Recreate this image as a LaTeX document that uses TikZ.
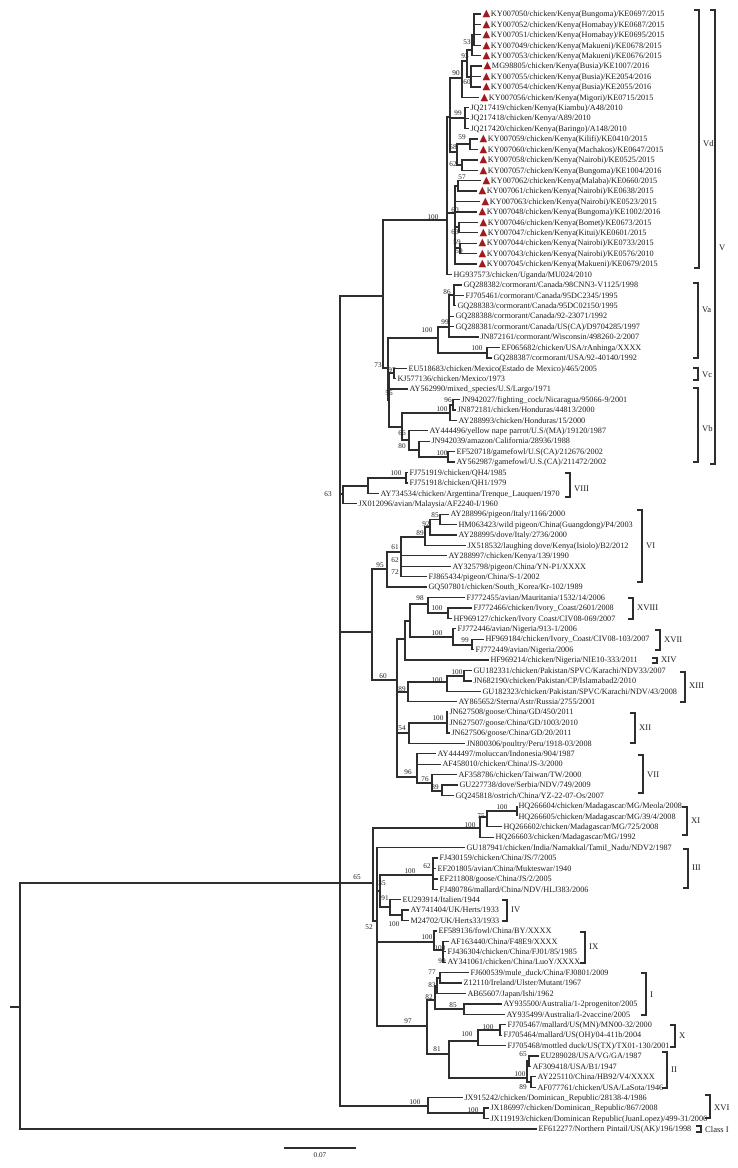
\documentclass[tikz,border=0pt]{standalone}
\usepackage{fontspec}
\setmainfont{Liberation Serif}
\newfontfamily\dejavu{DejaVu Sans}
\definecolor{trired}{HTML}{A11A1F}
\definecolor{ln}{HTML}{2E2E2E}
\definecolor{tx}{HTML}{1E1E1E}
\newcommand\tri{{\color{trired}\dejavu\fontsize{10}{10}\selectfont ▲}\hspace{0.8pt}}
\newcommand\lf[4]{\node[leaf] (L#1) at (#2,#3) {#4};}
\newcommand\E[2]{\foreach \c in {#2} {\draw[br] (#1) |- (\c);}}
\newcommand\bs[3]{\node[bsl] (b#1) at (#2) {#3};}
\newcommand\brk[6]{\draw[brk] (#2-5,#3) -- (#2,#3) -- (#2,#4) -- (#2-5,#4);
  \node[clade] (c#1) at (#2+4,#5) {#6};}
\begin{document}
\begin{tikzpicture}[x=1pt,y=-1pt,
  br/.style={line width=1.25pt,draw=ln},
  brk/.style={line width=1.35pt,draw=ln},
  leaf/.style={anchor=west,inner xsep=1.3pt,inner ysep=0pt,text height=6pt,text depth=0.6pt,font=\fontsize{8.2}{9}\selectfont,text=tx},
  bsl/.style={inner sep=0pt,font=\fontsize{7.2}{8}\selectfont,text=tx},
  clade/.style={anchor=west,inner sep=0pt,font=\fontsize{8.6}{9}\selectfont,text=tx}]
\useasboundingbox (0,0) rectangle (737,1168);
% ---------------- leaves ----------------
\lf{1}{481}{14.0}{\tri KY007050/chicken/Kenya(Bungoma)/KE0697/2015}
\lf{2}{481}{24.4}{\tri KY007052/chicken/Kenya(Homabay)/KE0687/2015}
\lf{3}{481}{34.8}{\tri KY007051/chicken/Kenya(Homabay)/KE0695/2015}
\lf{4}{481}{45.3}{\tri KY007049/chicken/Kenya(Makueni)/KE0678/2015}
\lf{5}{481}{55.7}{\tri KY007053/chicken/Kenya(Makueni)/KE0676/2015}
\lf{6}{482}{66.1}{\tri MG98805/chicken/Kenya(Busia)/KE1007/2016}
\lf{7}{481}{76.5}{\tri KY007055/chicken/Kenya(Busia)/KE2054/2016}
\lf{8}{481}{86.9}{\tri KY007054/chicken/Kenya(Busia)/KE2055/2016}
\lf{9}{479}{97.4}{\tri KY007056/chicken/Kenya(Migori)/KE0715/2015}
\lf{10}{469}{107.8}{JQ217419/chicken/Kenya(Kiambu)/A48/2010}
\lf{11}{469}{118.2}{JQ217418/chicken/Kenya/A89/2010}
\lf{12}{469}{128.6}{JQ217420/chicken/Kenya(Baringo)/A148/2010}
\lf{13}{478}{139.0}{\tri KY007059/chicken/Kenya(Kilifi)/KE0410/2015}
\lf{14}{478}{149.5}{\tri KY007060/chicken/Kenya(Machakos)/KE0647/2015}
\lf{15}{478}{159.9}{\tri KY007058/chicken/Kenya(Nairobi)/KE0525/2015}
\lf{16}{478}{170.3}{\tri KY007057/chicken/Kenya(Bungoma)/KE1004/2016}
\lf{17}{481}{180.7}{\tri KY007062/chicken/Kenya(Malaba)/KE0660/2015}
\lf{18}{477}{191.1}{\tri KY007061/chicken/Kenya(Nairobi)/KE0638/2015}
\lf{19}{480}{201.6}{\tri KY007063/chicken/Kenya(Nairobi)/KE0523/2015}
\lf{20}{477}{212.0}{\tri KY007048/chicken/Kenya(Bungoma)/KE1002/2016}
\lf{21}{478}{222.4}{\tri KY007046/chicken/Kenya(Bomet)/KE0673/2015}
\lf{22}{478}{232.8}{\tri KY007047/chicken/Kenya(Kitui)/KE0601/2015}
\lf{23}{477}{243.2}{\tri KY007044/chicken/Kenya(Nairobi)/KE0733/2015}
\lf{24}{477}{253.7}{\tri KY007043/chicken/Kenya(Nairobi)/KE0576/2010}
\lf{25}{477}{264.1}{\tri KY007045/chicken/Kenya(Makueni)/KE0679/2015}
\lf{26}{452}{274.5}{HG937573/chicken/Uganda/MU024/2010}
\lf{27}{462}{284.9}{GQ288382/cormorant/Canada/98CNN3-V1125/1998}
\lf{28}{464}{295.3}{FJ705461/cormorant/Canada/95DC2345/1995}
\lf{29}{456}{305.7}{GQ288383/cormorant/Canada/95DC02150/1995}
\lf{30}{454}{316.2}{GQ288388/cormorant/Canada/92-23071/1992}
\lf{31}{454}{326.6}{GQ288381/cormorant/Canada/US(CA)/D9704285/1997}
\lf{32}{479}{337.0}{JN872161/cormorant/Wisconsin/498260-2/2007}
\lf{33}{500}{347.4}{EF065682/chicken/USA/rAnhinga/XXXX}
\lf{34}{492}{357.9}{GQ288387/cormorant/USA/92-40140/1992}
\lf{35}{407}{368.3}{EU518683/chicken/Mexico(Estado de Mexico)/465/2005}
\lf{36}{396}{378.7}{KJ577136/chicken/Mexico/1973}
\lf{37}{408}{389.1}{AY562990/mixed\_species/U.S/Largo/1971}
\lf{38}{460}{399.5}{JN942027/fighting\_cock/Nicaragua/95066-9/2001}
\lf{39}{456}{409.9}{JN872181/chicken/Honduras/44813/2000}
\lf{40}{457}{420.4}{AY288993/chicken/Honduras/15/2000}
\lf{41}{428}{430.8}{AY444496/yellow nape parrot/U.S/(MA)/19120/1987}
\lf{42}{430}{441.2}{JN942039/amazon/California/28936/1988}
\lf{43}{455}{451.6}{EF520718/gamefowl/U.S(CA)/212676/2002}
\lf{44}{455}{462.1}{AY562987/gamefowl/U.S.(CA)/211472/2002}
\lf{45}{408}{472.5}{FJ751919/chicken/QH4/1985}
\lf{46}{408}{482.9}{FJ751918/chicken/QH1/1979}
\lf{47}{379}{493.3}{AY734534/chicken/Argentina/Trenque\_Lauquen/1970}
\lf{48}{357}{503.7}{JX012096/avian/Malaysia/AF2240-I/1960}
\lf{49}{449}{514.2}{AY288996/pigeon/Italy/1166/2000}
\lf{50}{457}{524.6}{HM063423/wild pigeon/China(Guangdong)/P4/2003}
\lf{51}{457}{535.0}{AY288995/dove/Italy/2736/2000}
\lf{52}{466}{545.4}{JX518532/laughing dove/Kenya(Isiolo)/B2/2012}
\lf{53}{447}{555.8}{AY288997/chicken/Kenya/139/1990}
\lf{54}{451}{566.3}{AY325798/pigeon/China/YN-P1/XXXX}
\lf{55}{427}{576.7}{FJ865434/pigeon/China/S-1/2002}
\lf{56}{427}{587.1}{GQ507801/chicken/South\_Korea/Kr-102/1989}
\lf{57}{465}{597.5}{FJ772455/avian/Mauritania/1532/14/2006}
\lf{58}{472}{607.9}{FJ772466/chicken/Ivory\_Coast/2601/2008}
\lf{59}{452}{618.4}{HF969127/chicken/Ivory Coast/CIV08-069/2007}
\lf{60}{456}{628.8}{FJ772446/avian/Nigeria/913-1/2006}
\lf{61}{484}{639.2}{HF969184/chicken/Ivory\_Coast/CIV08-103/2007}
\lf{62}{474}{649.6}{FJ772449/avian/Nigeria/2006}
\lf{63}{489}{660.0}{HF969214/chicken/Nigeria/NIE10-333/2011}
\lf{64}{472}{670.5}{GU182331/chicken/Pakistan/SPVC/Karachi/NDV33/2007}
\lf{65}{472}{680.9}{JN682190/chicken/Pakistan/CP/Islamabad2/2010}
\lf{66}{481}{691.3}{GU182323/chicken/Pakistan/SPVC/Karachi/NDV/43/2008}
\lf{67}{457}{701.7}{AY865652/Sterna/Astr/Russia/2755/2001}
\lf{68}{448}{712.1}{JN627508/goose/China/GD/450/2011}
\lf{69}{448}{722.6}{JN627507/goose/China/GD/1003/2010}
\lf{70}{450}{733.0}{JN627506/goose/China/GD/20/2011}
\lf{71}{465}{743.4}{JN800306/poultry/Peru/1918-03/2008}
\lf{72}{436}{753.8}{AY444497/moluccan/Indonesia/904/1987}
\lf{73}{441}{764.2}{AF458010/chicken/China/JS-3/2000}
\lf{74}{457}{774.7}{AF358786/chicken/Taiwan/TW/2000}
\lf{75}{458}{785.1}{GU227738/dove/Serbia/NDV/749/2009}
\lf{76}{454}{795.5}{GQ245818/ostrich/China/YZ-22-07-Os/2007}
\lf{77}{517}{805.9}{HQ266604/chicken/Madagascar/MG/Meola/2008}
\lf{78}{517}{816.3}{HQ266605/chicken/Madagascar/MG/39/4/2008}
\lf{79}{502}{826.8}{HQ266602/chicken/Madagascar/MG/725/2008}
\lf{80}{494}{837.2}{HQ266603/chicken/Madagascar/MG/1992}
\lf{81}{465}{847.6}{GU187941/chicken/India/Namakkal/Tamil\_Nadu/NDV2/1987}
\lf{82}{438}{858.0}{FJ430159/chicken/China/JS/7/2005}
\lf{83}{436}{868.4}{EF201805/avian/China/Mukteswar/1940}
\lf{84}{438}{878.9}{EF211808/goose/China/JS/2/2005}
\lf{85}{438}{889.3}{FJ480786/mallard/China/NDV/HLJ383/2006}
\lf{86}{401}{899.7}{EU293914/Italien/1944}
\lf{87}{409}{910.1}{AY741404/UK/Herts/1933}
\lf{88}{409}{920.5}{M24702/UK/Herts33/1933}
\lf{89}{437}{931.0}{EF589136/fowl/China/BY/XXXX}
\lf{90}{449}{941.4}{AF163440/China/F48E9/XXXX}
\lf{91}{446}{951.8}{FJ436304/chicken/China/FJ01/85/1985}
\lf{92}{446}{962.2}{AY341061/chicken/China/LuoY/XXXX}
\lf{93}{469}{972.6}{FJ600539/mule\_duck/China/FJ0801/2009}
\lf{94}{462}{983.1}{Z12110/Ireland/Ulster/Mutant/1967}
\lf{95}{466}{993.5}{AB65607/Japan/Ishi/1962}
\lf{96}{502}{1003.9}{AY935500/Australia/1-2progenitor/2005}
\lf{97}{505}{1014.3}{AY935499/Australia/I-2vaccine/2005}
\lf{98}{506}{1024.7}{FJ705467/mallard/US(MN)/MN00-32/2000}
\lf{99}{502}{1035.2}{FJ705464/mallard/US(OH)/04-411b/2004}
\lf{100}{506}{1045.6}{FJ705468/mottled duck/US(TX)/TX01-130/2001}
\lf{101}{539}{1056.0}{EU289028/USA/VG/GA/1987}
\lf{102}{531}{1066.4}{AF309418/USA/B1/1947}
\lf{103}{536}{1076.8}{AY225110/China/HB92/V4/XXXX}
\lf{104}{536}{1087.3}{AF077761/chicken/USA/LaSota/1946}
\lf{105}{463}{1097.7}{JX915242/chicken/Dominican\_Republic/28138-4/1986}
\lf{106}{489}{1108.1}{JX186997/chicken/Dominican\_Republic/867/2008}
\lf{107}{489}{1118.5}{JX119193/chicken/Dominican Republic(JuanLopez)/499-31/2006}
\lf{108}{537}{1128.9}{EF612277/Northern Pintail/US(AK)/196/1998}
% ---------------- internal nodes ----------------
\coordinate (stub) at (10,1007);
\coordinate (root) at (20,1007);
\coordinate (nA) at (340,883);
\coordinate (nV) at (383,296);
\coordinate (nVdAll) at (447,220);
\coordinate (nUp) at (450,117);
\coordinate (n90) at (462,78);
\coordinate (nX9) at (467,61);
\coordinate (n93) at (472,50);
\coordinate (n53) at (474,35);
\coordinate (n60a) at (471,77);
\coordinate (n99) at (465,118);
\coordinate (n58) at (457,152);
\coordinate (n59) at (470,144);
\coordinate (n62) at (462,165);
\coordinate (n60b) at (455,213);
\coordinate (n57) at (458,186);
\coordinate (n63v) at (459,227);
\coordinate (n59v) at (460,248);
\coordinate (n73) at (388,368);
\coordinate (nVa) at (438,338);
\coordinate (n99Va) at (449,327);
\coordinate (n86) at (454,295);
\coordinate (nVa100) at (487,353);
\coordinate (n56) at (389,400);
\coordinate (nVc) at (394,373);
\coordinate (nVbR) at (402,427);
\coordinate (nVb100) at (450,413);
\coordinate (n96Vb) at (453,405);
\coordinate (n66) at (409,440);
\coordinate (n80) at (419,450);
\coordinate (nVb100b) at (448,457);
\coordinate (n63) at (343,494);
\coordinate (nVIII) at (368,486);
\coordinate (nVIII100) at (406,478);
\coordinate (n372) at (372,632);
\coordinate (n95) at (387,569);
\coordinate (n61) at (401,552);
\coordinate (n89VI) at (425,537);
\coordinate (n92) at (430,527);
\coordinate (n85VI) at (440,519.5);
\coordinate (n60) at (397,680);
\coordinate (nAfr) at (405,639);
\coordinate (nX78) at (410,621);
\coordinate (n98) at (428,604);
\coordinate (n100XVIII) at (448,613);
\coordinate (nXVII) at (453,637);
\coordinate (n99XVII) at (472,645);
\coordinate (n89XIII) at (408,692);
\coordinate (n100XIII) at (447,682);
\coordinate (n100c) at (464,676);
\coordinate (n54) at (409,733);
\coordinate (n100XII) at (447,723);
\coordinate (n96) at (417,777);
\coordinate (n76) at (432,783);
\coordinate (n89VII) at (442,791);
\coordinate (n65) at (373,883);
\coordinate (nXI) at (480,828);
\coordinate (n75) at (487,817);
\coordinate (nXI100) at (517,811);
\coordinate (n52) at (377,921);
\coordinate (n35) at (380,891);
\coordinate (nIII) at (433,875);
\coordinate (n91) at (390,907);
\coordinate (nIV100) at (402,915);
\coordinate (nIX) at (434,942);
\coordinate (nIX100) at (443,950);
\coordinate (n97) at (427,1026);
\coordinate (n82) at (435,1000);
\coordinate (n83) at (437,986);
\coordinate (n77) at (440,978);
\coordinate (n85I) at (464,1009);
\coordinate (n81) at (449,1054);
\coordinate (nX) at (478,1041);
\coordinate (nX100) at (500,1030);
\coordinate (nII) at (527,1078);
\coordinate (n65II) at (529,1061);
\coordinate (n89II) at (531,1082);
\coordinate (nXVI) at (428,1106);
\coordinate (nXVI100) at (484,1113);
% ---------------- branches ----------------
\draw[br] (stub) -- (root);
\E{root}{nA,L108.west}
\E{nA}{nV,n63,n372,n65,nXVI}
\E{nV}{nVdAll,n73}
\E{nVdAll}{nUp,n60b,L26.west}
\E{nUp}{n90,n99,n58}
\E{n90}{nX9,L9.west}
\E{nX9}{n93,n60a}
\E{n93}{n53,L5.west}
\E{n53}{L1.west,L2.west,L3.west,L4.west}
\E{n60a}{L6.west,L7.west,L8.west}
\E{n99}{L10.west,L11.west,L12.west}
\E{n58}{n59,n62}
\E{n59}{L13.west,L14.west}
\E{n62}{L15.west,L16.west}
\E{n60b}{n57,L19.west,L20.west,n63v,n59v,L25.west}
\E{n57}{L17.west,L18.west}
\E{n63v}{L21.west,L22.west}
\E{n59v}{L23.west,L24.west}
\E{n73}{nVa,n56}
\E{nVa}{n99Va,nVa100}
\E{n99Va}{n86,L30.west,L31.west,L32.west}
\E{n86}{L27.west,L28.west,L29.west}
\E{nVa100}{L33.west,L34.west}
\E{n56}{nVc,L37.west,nVbR}
\E{nVc}{L35.west,L36.west}
\E{nVbR}{nVb100,n66}
\E{nVb100}{n96Vb,L40.west}
\E{n96Vb}{L38.west,L39.west}
\E{n66}{L41.west,n80}
\E{n80}{L42.west,nVb100b}
\E{nVb100b}{L43.west,L44.west}
\E{n63}{nVIII,L48.west}
\E{nVIII}{nVIII100,L47.west}
\E{nVIII100}{L45.west,L46.west}
\E{n372}{n95,n60}
\E{n95}{n61,L56.west}
\E{n61}{n89VI,L53.west,L54.west,L55.west}
\E{n89VI}{n92,L52.west}
\E{n92}{n85VI,L51.west}
\E{n85VI}{L49.west,L50.west}
\E{n60}{nAfr,n89XIII,n54,n96}
\E{nAfr}{nX78,L63.west}
\E{nX78}{n98,nXVII}
\E{n98}{L57.west,n100XVIII}
\E{n100XVIII}{L58.west,L59.west}
\E{nXVII}{L60.west,n99XVII}
\E{n99XVII}{L61.west,L62.west}
\E{n89XIII}{n100XIII,L67.west}
\E{n100XIII}{n100c,L66.west}
\E{n100c}{L64.west,L65.west}
\E{n54}{n100XII,L71.west}
\E{n100XII}{L68.west,L69.west,L70.west}
\E{n96}{L72.west,L73.west,n76}
\E{n76}{L74.west,n89VII}
\E{n89VII}{L75.west,L76.west}
\E{n65}{nXI,n52}
\E{nXI}{n75,L80.west}
\E{n75}{nXI100,L79.west}
\E{nXI100}{L77.west,L78.west}
\E{n52}{L81.west,n35,nIX,n97}
\E{n35}{nIII,n91}
\E{nIII}{L82.west,L83.west,L84.west,L85.west}
\E{n91}{L86.west,nIV100}
\E{nIV100}{L87.west,L88.west}
\E{nIX}{L89.west,nIX100}
\E{nIX100}{L90.west,L91.west,L92.west}
\E{n97}{n82,n81}
\E{n82}{n83,n85I}
\E{n83}{n77,L95.west}
\E{n77}{L93.west,L94.west}
\E{n85I}{L96.west,L97.west}
\E{n81}{nX,nII}
\E{nX}{nX100,L100.west}
\E{nX100}{L98.west,L99.west}
\E{nII}{n65II,n89II}
\E{n65II}{L101.west,L102.west}
\E{n89II}{L103.west,L104.west}
\E{nXVI}{L105.west,nXVI100}
\E{nXVI100}{L106.west,L107.west}
% ---------------- bootstrap values ----------------
\bs{1}{467,42}{53}
\bs{2}{465,56}{93}
\bs{3}{456,73}{90}
\bs{4}{467,82}{60}
\bs{5}{458,113}{99}
\bs{6}{462,137}{59}
\bs{7}{453,147}{58}
\bs{8}{453,164}{62}
\bs{9}{462,177}{57}
\bs{10}{455,210}{60}
\bs{11}{455,232}{63}
\bs{12}{457,242}{59}
\bs{13}{459,251}{59}
\bs{14}{433,217}{100}
\bs{15}{447,292}{86}
\bs{16}{445,322}{99}
\bs{17}{427,330}{100}
\bs{18}{477,348}{100}
\bs{19}{378,365}{73}
\bs{20}{392,370}{97}
\bs{21}{389,393}{56}
\bs{22}{448,400}{96}
\bs{23}{442,409}{100}
\bs{24}{402,433}{66}
\bs{25}{402,446}{80}
\bs{26}{442,453}{100}
\bs{27}{396,473}{100}
\bs{28}{328,494}{63}
\bs{29}{435,515}{85}
\bs{30}{426,524}{92}
\bs{31}{420,533}{89}
\bs{32}{395,547}{61}
\bs{33}{395,560}{62}
\bs{34}{395,572}{72}
\bs{35}{380,565}{95}
\bs{36}{420,598}{98}
\bs{37}{437,608}{100}
\bs{38}{437,633}{100}
\bs{39}{465,640}{99}
\bs{40}{383,676}{60}
\bs{41}{457,672}{100}
\bs{42}{437,680}{100}
\bs{43}{402,689}{89}
\bs{44}{438,718}{100}
\bs{45}{402,728}{54}
\bs{46}{408,772}{96}
\bs{47}{425,779}{76}
\bs{48}{435,787}{89}
\bs{49}{502,807}{100}
\bs{50}{481,816}{75}
\bs{51}{470,825}{100}
\bs{52}{357,877}{65}
\bs{53}{427,866}{62}
\bs{54}{410,871}{100}
\bs{55}{382,883}{35}
\bs{56}{385,898}{91}
\bs{57}{394,924}{100}
\bs{58}{369,927}{52}
\bs{59}{427,937}{100}
\bs{60}{440,948}{100}
\bs{61}{442,961}{99}
\bs{62}{432,972}{77}
\bs{63}{432,985}{83}
\bs{64}{429,997}{82}
\bs{65}{453,1005}{85}
\bs{66}{408,1021}{97}
\bs{67}{488,1027}{100}
\bs{68}{467,1034}{100}
\bs{69}{437,1049}{81}
\bs{70}{523,1054}{65}
\bs{71}{520,1074}{100}
\bs{72}{523,1087}{89}
\bs{73}{415,1102}{100}
\bs{74}{473,1110}{100}
% ---------------- clade brackets ----------------
\brk{Vd}{699}{10}{268}{144}{Vd}
\brk{V}{715}{10}{464}{248}{V}
\brk{Va}{698}{283}{358}{310}{Va}
\brk{Vc}{698}{368}{380}{375}{Vc}
\brk{Vb}{698}{388}{462}{429}{Vb}
\brk{VIII}{570}{473}{497}{489}{VIII}
\brk{VI}{642}{510}{582}{546}{VI}
\brk{XVIII}{633}{598}{619}{608}{XVIII}
\brk{XVII}{660}{630}{650}{640}{XVII}
\brk{XIV}{657}{658}{663}{660}{XIV}
\brk{XIII}{685}{672}{702}{686}{XIII}
\brk{XII}{635}{713}{743}{728}{XII}
\brk{VII}{643}{755}{793}{775}{VII}
\brk{XI}{687}{807}{835}{821}{XI}
\brk{III}{688}{849}{888}{868}{III}
\brk{IV}{507}{900}{921}{910}{IV}
\brk{IX}{585}{932}{963}{947}{IX}
\brk{I}{646}{973}{1015}{995}{I}
\brk{X}{675}{1025}{1047}{1036}{X}
\brk{II}{667}{1052}{1088}{1070}{II}
\brk{XVI}{710}{1095}{1118}{1108}{XVI}
\brk{ClassI}{701}{1126}{1132}{1130}{Class I}
% ---------------- scale bar ----------------
\coordinate (sb1) at (284,1148);
\coordinate (sb2) at (356,1148);
\draw[br] (sb1) -- (sb2);
\node[bsl] (sbl) at (320,1155) {0.07};
\end{tikzpicture}
\end{document}
